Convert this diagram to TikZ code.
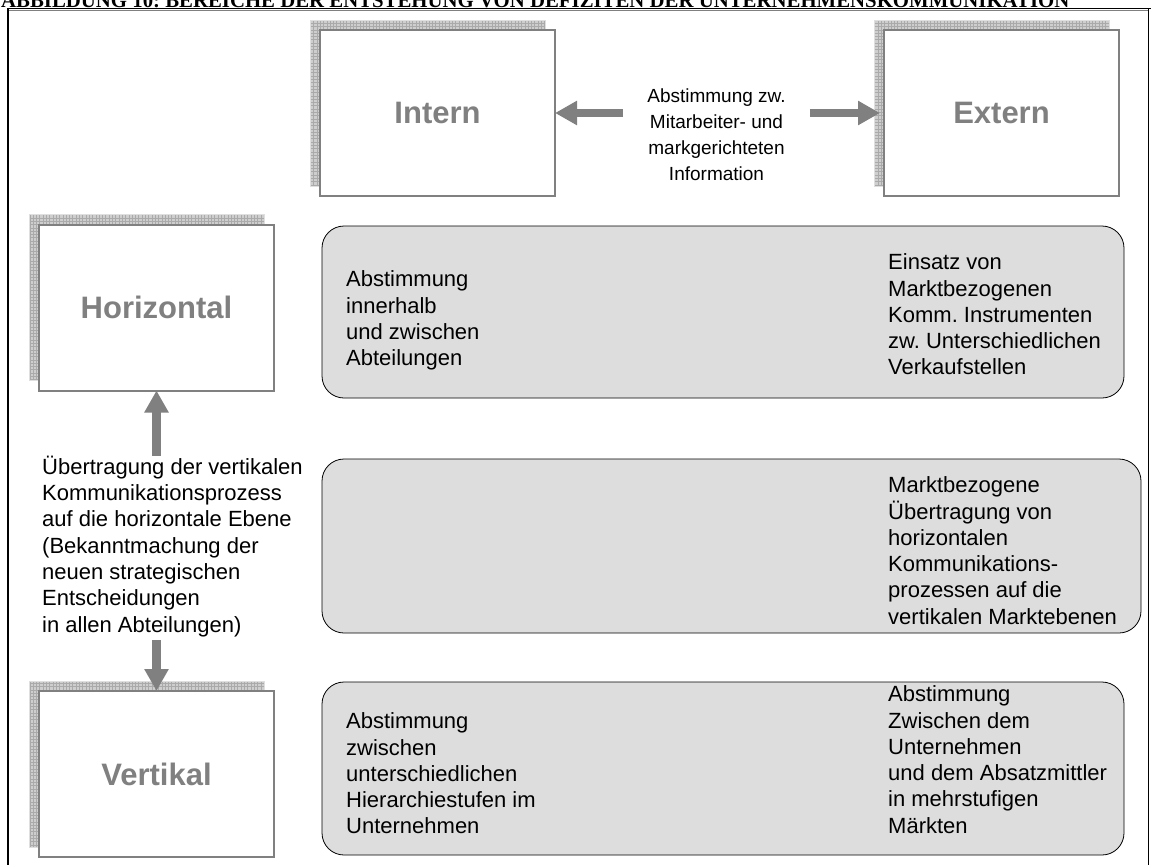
\documentclass[tikz,border=0pt]{standalone}
\usepackage{fontspec}
\setmainfont{Liberation Sans}
\newfontfamily\headfont{Liberation Serif}
\usetikzlibrary{arrows.meta,backgrounds}
\frenchspacing

\definecolor{boxgray}{RGB}{128,128,128}
\definecolor{panelfill}{RGB}{221,221,221}
\definecolor{shadefill}{RGB}{206,206,206}
\definecolor{shadegrid}{RGB}{170,170,170}

\tikzset{
  levelbox/.style={draw=boxgray, line width=2pt, fill=white, outer sep=0pt,
    minimum width=235pt, minimum height=166pt, inner sep=0pt,
    font=\bfseries\fontsize{31}{36}\selectfont, text=boxgray},
  panel/.style={draw=black, line width=0.8pt, fill=panelfill,
    rounded corners=22pt, inner sep=0pt, outer sep=0pt},
  txt/.style={inner sep=0pt, anchor=north west, align=left,
    font=\fontsize{22}{26.3}\selectfont, execute at begin node=\strut},
  midtxt/.style={inner sep=0pt, anchor=north, align=center,
    font=\fontsize{19}{26}\selectfont, execute at begin node=\strut},
  bigarrow/.style={draw=boxgray, line width=8.5pt,
    -{Triangle[length=22pt,width=23pt]}},
}

\begin{document}
\begin{tikzpicture}[x=1pt,y=-1pt]
  \clip (0,0) rectangle (1151,865);

  % caption line, cut at the top edge
  \node[anchor=base west, inner sep=0pt,
        font=\headfont\bfseries\fontsize{20.8}{24}\selectfont] (caption) at (1,7)
    {ABBILDUNG 10: BEREICHE DER ENTSTEHUNG VON DEFIZITEN DER UNTERNEHMENSKOMMUNIKATION};

  % table frame
  \draw[black, line width=1pt] (7,8.3) -- (1151,8.3);
  \draw[gray, line width=0.8pt] (8,10) -- (1149,10);
  \draw[black, line width=2.5pt] (8,8) -- (8,865);
  \draw[black, line width=1.2pt] (1148.5,8) -- (1148.5,865);

  % level boxes
  \node[levelbox] (intern) at (437.5,113)   {Intern};
  \node[levelbox] (extern) at (1001.5,113)  {Extern};
  \node[levelbox] (horiz)  at (156.5,307.5) {Horizontal};
  \node[levelbox] (vert)   at (156.5,774)   {Vertikal};

  % hatched shadows behind the level boxes
  \begin{scope}[on background layer]
    \foreach \b in {intern,extern,horiz,vert}{
      \fill[shadefill] ([shift={(-10,-10)}]\b.north west) rectangle ([shift={(-10,-10)}]\b.south east);
      \draw[shadegrid, line width=0.25pt, step=3.3pt]
        ([shift={(-10,-10)}]\b.north west) grid ([shift={(-10,-10)}]\b.south east);
      \draw[white!75!gray, line width=0.6pt]
        ([shift={(-10,-10)}]\b.north west) rectangle ([shift={(-10,-10)}]\b.south east);
    }
  \end{scope}

  % rounded panels
  \node[panel, minimum width=802pt, minimum height=172pt] (p1) at (723,312) {};
  \node[panel, minimum width=819pt, minimum height=174pt] (p2) at (731.5,546) {};
  \node[panel, minimum width=802pt, minimum height=173pt] (p3) at (723,768.5) {};

  % texts
  \node[midtxt] (mid) at (716.5,88.8)
    {Abstimmung zw.\\Mitarbeiter- und\\markgerichteten\\Information};

  \node[txt] (left) at (42,455.6)
    {Übertragung der vertikalen\\Kommunikationsprozess\\auf die horizontale Ebene\\(Bekanntmachung der\\neuen strategischen\\Entscheidungen\\in allen Abteilungen)};

  \node[txt] (p1l) at (346,270.6)
    {Abstimmung\\innerhalb\\und zwischen\\Abteilungen};
  \node[txt] (p1r) at (888,253.6)
    {Einsatz von\\Marktbezogenen\\Komm. Instrumenten\\zw. Unterschiedlichen\\Verkaufstellen};

  \node[txt] (p2r) at (888,476.6)
    {Marktbezogene\\Übertragung von\\horizontalen\\Kommunikations-\\prozessen auf die\\vertikalen Marktebenen};

  \node[txt] (p3l) at (346,712.6)
    {Abstimmung\\zwischen\\unterschiedlichen\\Hierarchiestufen im\\Unternehmen};
  \node[txt] (p3r) at (888,685.6)
    {Abstimmung\\Zwischen dem\\Unternehmen\\und dem Absatzmittler\\in mehrstufigen\\Märkten};

  % arrows
  \draw[bigarrow, shorten <=24pt] (intern.east -| mid.west) -- (intern.east);
  \draw[bigarrow, shorten <=24pt, shorten >=4pt] (extern.west -| mid.east) -- (extern.west);
  \draw[bigarrow] (left.north -| horiz.south) -- (horiz.south);
  \draw[bigarrow] (left.south -| vert.north) -- (vert.north);
\end{tikzpicture}
\end{document}
